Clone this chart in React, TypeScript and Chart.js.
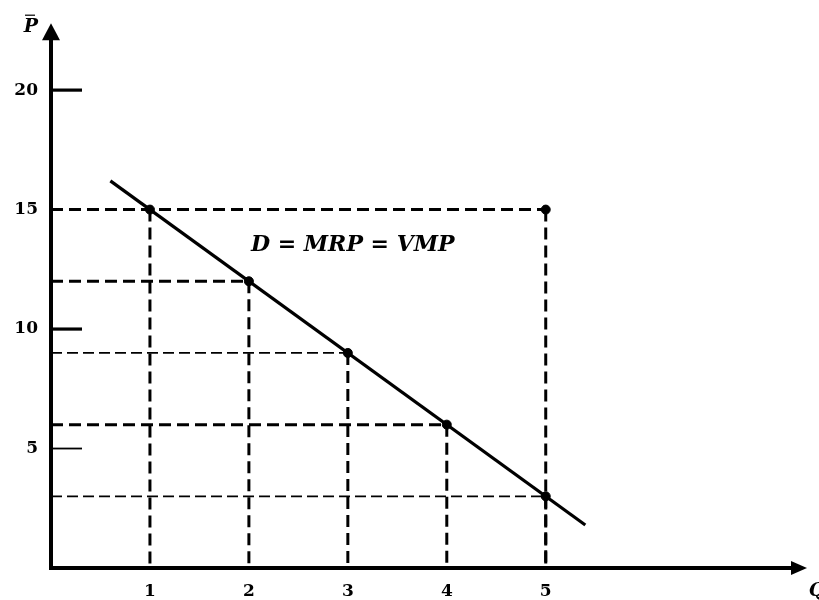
import React, { useEffect, useRef } from "react";
import { Chart, registerables } from "chart.js";

Chart.register(...registerables);

// ---- data ----
const demandQ = [0.6, 5.4];
const demandP = [16.2, 1.8];
const quantities = [1, 2, 3, 4, 5];
const prices = [15, 12, 9, 6, 3];
const extraQ = [5];
const extraP = [15];
const xTickValues = [1, 2, 3, 4, 5];
const yTickValues = [5, 10, 15, 20];
const yStubValues = [20, 10, 5];
const thinGuidePrices = [9, 3];
const curveLabel = "D = MRP = VMP";
const curveLabelQ = 3.05;
const curveLabelP = 13.5;
const xAxisLabel = "Q";
const yAxisLabel = "P";

const X_MAX = 7.6;
const Y_MAX = 22.8;

const SERIF = "'DejaVu Serif', 'Liberation Serif', serif";

function buildDatasets() {
  const sets: any[] = [];
  const guide = (pts: { x: number; y: number }[], thin: boolean) => ({
    type: "line",
    data: pts,
    borderColor: "#000",
    borderWidth: thin ? 1.8 : 3,
    borderDash: thin ? [11, 5] : [12, 6],
    pointRadius: 0,
    fill: false,
    order: 3,
  });
  // horizontal guide at the top price extends to the extra point
  sets.push(guide([{ x: 0, y: extraP[0] }, { x: extraQ[0], y: extraP[0] }], false));
  sets.push(guide([{ x: extraQ[0], y: extraP[0] }, { x: extraQ[0], y: 0 }], false));
  quantities.forEach((q, i) => {
    const p = prices[i];
    const thin = thinGuidePrices.includes(p);
    sets.push(guide([{ x: 0, y: p }, { x: q, y: p }], thin));
    sets.push(guide([{ x: q, y: p }, { x: q, y: 0 }], false));
  });
  // demand curve
  sets.push({
    type: "line",
    data: demandQ.map((q, i) => ({ x: q, y: demandP[i] })),
    borderColor: "#000",
    borderWidth: 3.2,
    pointRadius: 0,
    fill: false,
    order: 1,
  });
  // points
  sets.push({
    type: "scatter",
    data: quantities
      .map((q, i) => ({ x: q, y: prices[i] }))
      .concat(extraQ.map((q, i) => ({ x: q, y: extraP[i] }))),
    backgroundColor: "#000",
    borderColor: "#000",
    pointRadius: 4.5,
    order: 0,
  });
  return sets;
}

const axesPlugin = {
  id: "econAxes",
  afterDatasetsDraw(chart: any) {
    const { ctx, scales } = chart;
    const xs = scales.x;
    const ys = scales.y;
    const x0 = xs.getPixelForValue(0);
    const y0 = ys.getPixelForValue(0);
    const xEnd = xs.getPixelForValue(X_MAX) + 4;
    const yTop = ys.getPixelForValue(Y_MAX);
    ctx.save();
    ctx.strokeStyle = "#000";
    ctx.fillStyle = "#000";
    ctx.lineWidth = 4;
    ctx.lineCap = "butt";
    // x axis
    ctx.beginPath();
    ctx.moveTo(x0 - 2, y0);
    ctx.lineTo(xEnd - 8, y0);
    ctx.stroke();
    ctx.beginPath();
    ctx.moveTo(xEnd, y0);
    ctx.lineTo(xEnd - 16, y0 - 7);
    ctx.lineTo(xEnd - 16, y0 + 7);
    ctx.closePath();
    ctx.fill();
    // y axis
    ctx.beginPath();
    ctx.moveTo(x0, y0 + 2);
    ctx.lineTo(x0, yTop + 8);
    ctx.stroke();
    ctx.beginPath();
    ctx.moveTo(x0, yTop);
    ctx.lineTo(x0 - 9, yTop + 17);
    ctx.lineTo(x0 + 9, yTop + 17);
    ctx.closePath();
    ctx.fill();
    // y stubs
    yStubValues.forEach((v, i) => {
      const y = ys.getPixelForValue(v);
      ctx.lineWidth = i === yStubValues.length - 1 ? 1.8 : 3.2;
      ctx.beginPath();
      ctx.moveTo(x0, y);
      ctx.lineTo(x0 + 31, y);
      ctx.stroke();
    });
    // axis letters
    ctx.font = `italic bold 19px ${SERIF}`;
    ctx.textAlign = "center";
    ctx.textBaseline = "middle";
    ctx.fillText(yAxisLabel, x0 - 20, yTop + 4);
    ctx.lineWidth = 1.2;
    ctx.beginPath();
    ctx.moveTo(x0 - 26, yTop - 8);
    ctx.lineTo(x0 - 16, yTop - 8);
    ctx.stroke();
    ctx.fillText(xAxisLabel, xEnd + 10, y0 + 23);
    // curve label
    ctx.font = `italic bold 22px ${SERIF}`;
    ctx.fillText(curveLabel, xs.getPixelForValue(curveLabelQ), ys.getPixelForValue(curveLabelP));
    ctx.restore();
  },
};

export default function App() {
  const ref = useRef<HTMLCanvasElement | null>(null);
  useEffect(() => {
    document.body.style.margin = "0";
    const canvas = ref.current;
    if (!canvas) return;
    const chart = new Chart(canvas, {
      type: "scatter",
      data: { datasets: buildDatasets() },
      plugins: [axesPlugin],
      options: {
        animation: false,
        responsive: false,
        maintainAspectRatio: false,
        layout: { padding: { top: 18, right: 16, left: 0, bottom: 0 } },
        plugins: { legend: { display: false }, tooltip: { enabled: false } },
        scales: {
          x: {
            type: "linear",
            min: 0,
            max: X_MAX,
            grid: { display: false, drawTicks: false },
            border: { display: false },
            afterBuildTicks: (s: any) => {
              s.ticks = xTickValues.map((v) => ({ value: v }));
            },
            afterFit: (s: any) => {
              s.height = 32;
            },
            ticks: {
              padding: 13,
              color: "#000",
              font: { family: SERIF, weight: "bold", size: 17 },
              callback: (v: any) => String(v),
            },
          },
          y: {
            type: "linear",
            min: 0,
            max: Y_MAX,
            grid: { display: false, drawTicks: false },
            border: { display: false },
            afterBuildTicks: (s: any) => {
              s.ticks = yTickValues.map((v) => ({ value: v }));
            },
            afterFit: (s: any) => {
              s.width = 51;
            },
            ticks: {
              padding: 13,
              color: "#000",
              font: { family: SERIF, weight: "bold", size: 17 },
              callback: (v: any) => String(v),
            },
          },
        },
      } as any,
    });
    return () => chart.destroy();
  }, []);
  return (
    <div style={{ width: 819, height: 600, position: "relative", background: "#fff" }}>
      <canvas ref={ref} width={819} height={600} style={{ display: "block" }} />
    </div>
  );
}
